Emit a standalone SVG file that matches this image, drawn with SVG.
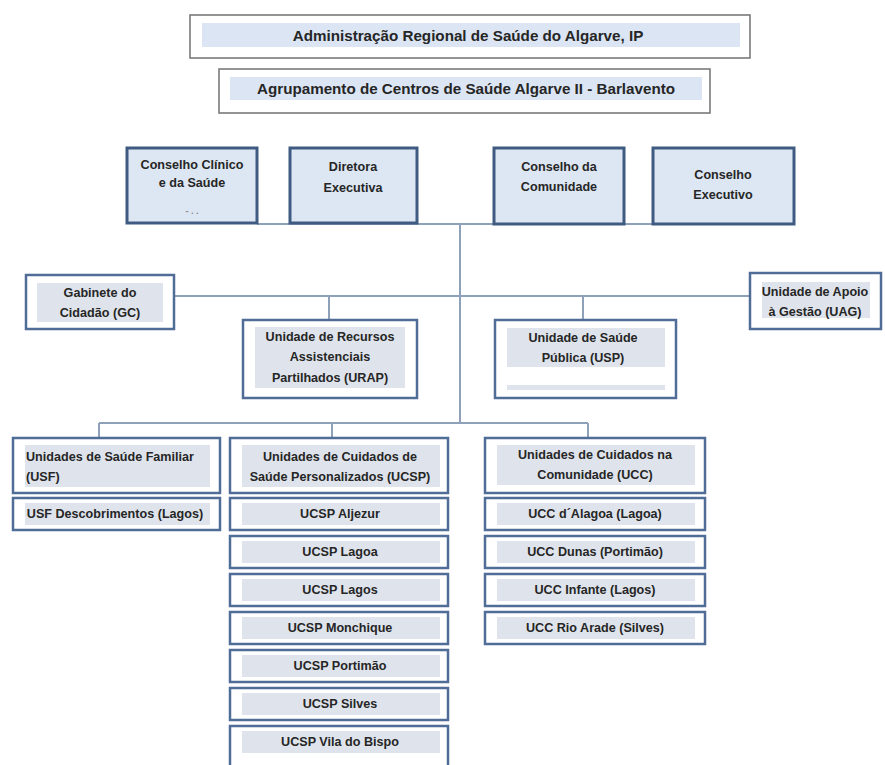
<svg xmlns="http://www.w3.org/2000/svg" width="885" height="765" viewBox="0 0 885 765">
<style>
text{font-family:"Liberation Sans",Arial,sans-serif;font-weight:bold;font-size:12.6px;fill:#262626;text-anchor:middle;dominant-baseline:central}
.top{fill:#fff;stroke:#7a7a7a;stroke-width:1.6}
.topin{fill:#dbe5f3}
.cons{fill:#dde6f3;stroke:#3f5b82;stroke-width:3}
.box{fill:#fff;stroke:#4f6d96;stroke-width:2.5}
.in{fill:#dfe4ec}
.ln{stroke:#8fa1b8;stroke-width:2;fill:none}
.big{font-size:15.2px}
</style>
<rect width="885" height="765" fill="#fff"/>
<g id="connectors">
<path class="ln" d="M257 224H653"/>
<path class="ln" d="M460 224V423"/>
<path class="ln" d="M174 296H750"/>
<path class="ln" d="M329 296V320"/>
<path class="ln" d="M583 296V320"/>
<path class="ln" d="M99 423H588"/>
<path class="ln" d="M99 423V438"/>
<path class="ln" d="M332 423V438"/>
<path class="ln" d="M588 423V438"/>
</g>
<g id="arsa">
<rect class="top" x="190" y="15" width="560" height="43"/>
<rect class="topin" x="202" y="23" width="538" height="24"/>
<text class="big" x="468" y="35">Administração Regional de Saúde do Algarve, IP</text>
</g>
<g id="aces">
<rect class="top" x="219" y="69" width="491" height="44"/>
<rect class="topin" x="230" y="77" width="472" height="23"/>
<text class="big" x="466" y="88">Agrupamento de Centros de Saúde Algarve II - Barlavento</text>
</g>
<g id="conselho-clinico">
<rect class="cons" x="127" y="148" width="130" height="75"/>
<text x="192" y="165">Conselho Clínico</text>
<text x="192" y="183">e da Saúde</text>
<text x="192" y="211" style="font-size:9px;fill:#888">-   . .</text>
</g>
<g id="diretora">
<rect class="cons" x="290" y="148" width="127" height="75"/>
<text x="353" y="167">Diretora</text>
<text x="353" y="188">Executiva</text>
</g>
<g id="conselho-comunidade">
<rect class="cons" x="494" y="148" width="130" height="76"/>
<text x="559" y="167">Conselho da</text>
<text x="559" y="187">Comunidade</text>
</g>
<g id="conselho-executivo">
<rect class="cons" x="653" y="148" width="141" height="76"/>
<text x="723" y="175">Conselho</text>
<text x="723" y="195">Executivo</text>
</g>
<g id="gc">
<rect class="box" x="26" y="275" width="148" height="54"/>
<rect class="in" x="37" y="283" width="126" height="39"/>
<text x="100" y="293">Gabinete do</text>
<text x="100" y="313">Cidadão (GC)</text>
</g>
<g id="uag">
<rect class="box" x="750" y="273" width="131" height="56"/>
<rect class="in" x="762" y="282" width="108" height="36"/>
<text x="815" y="292">Unidade de Apoio</text>
<text x="815" y="312">à Gestão (UAG)</text>
</g>
<g id="urap">
<rect class="box" x="243" y="320" width="174" height="78"/>
<rect class="in" x="255" y="327" width="150" height="61"/>
<text x="330" y="337">Unidade de Recursos</text>
<text x="330" y="357">Assistenciais</text>
<text x="330" y="378">Partilhados (URAP)</text>
</g>
<g id="usp">
<rect class="box" x="495" y="320" width="181" height="78"/>
<rect class="in" x="507" y="328" width="158" height="39"/>
<rect class="in" x="507" y="385" width="158" height="5"/>
<text x="583" y="338">Unidade de Saúde</text>
<text x="583" y="358">Pública (USP)</text>
</g>
<g id="usf">
<rect class="box" x="13" y="438" width="207" height="55"/>
<rect class="in" x="25" y="445" width="185" height="42"/>
<text x="26" y="457" style="text-anchor:start">Unidades de Saúde Familiar</text>
<text x="26" y="477" style="text-anchor:start">(USF)</text>
</g>
<g id="usf-descobrimentos">
<rect class="box" x="13" y="498" width="207" height="32"/>
<rect class="in" x="25" y="503" width="185" height="22"/>
<text x="115" y="514">USF Descobrimentos (Lagos)</text>
</g>
<g id="ucsp">
<rect class="box" x="230" y="438" width="218" height="55"/>
<rect class="in" x="242" y="445" width="198" height="42"/>
<text x="340" y="457">Unidades de Cuidados de</text>
<text x="340" y="477">Saúde Personalizados (UCSP)</text>
</g>
<g id="ucsp-aljezur">
<rect class="box" x="230" y="498" width="218" height="32"/>
<rect class="in" x="242" y="503" width="198" height="22"/>
<text x="340" y="514">UCSP Aljezur</text>
</g>
<g id="ucsp-lagoa">
<rect class="box" x="230" y="536" width="218" height="32"/>
<rect class="in" x="242" y="541" width="198" height="22"/>
<text x="340" y="552">UCSP Lagoa</text>
</g>
<g id="ucsp-lagos">
<rect class="box" x="230" y="574" width="218" height="32"/>
<rect class="in" x="242" y="579" width="198" height="22"/>
<text x="340" y="590">UCSP Lagos</text>
</g>
<g id="ucsp-monchique">
<rect class="box" x="230" y="612" width="218" height="32"/>
<rect class="in" x="242" y="617" width="198" height="22"/>
<text x="340" y="628">UCSP Monchique</text>
</g>
<g id="ucsp-portimao">
<rect class="box" x="230" y="650" width="218" height="32"/>
<rect class="in" x="242" y="655" width="198" height="22"/>
<text x="340" y="666">UCSP Portimão</text>
</g>
<g id="ucsp-silves">
<rect class="box" x="230" y="688" width="218" height="32"/>
<rect class="in" x="242" y="693" width="198" height="22"/>
<text x="340" y="704">UCSP Silves</text>
</g>
<g id="ucsp-vila-do-bispo">
<rect class="box" x="230" y="726" width="218" height="45"/>
<rect class="in" x="242" y="731" width="198" height="22"/>
<text x="340" y="742">UCSP Vila do Bispo</text>
</g>
<g id="ucc">
<rect class="box" x="485" y="438" width="220" height="55"/>
<rect class="in" x="497" y="445" width="198" height="40"/>
<text x="595" y="455">Unidades de Cuidados na</text>
<text x="595" y="475">Comunidade (UCC)</text>
</g>
<g id="ucc-alagoa">
<rect class="box" x="485" y="498" width="220" height="32"/>
<rect class="in" x="497" y="503" width="198" height="22"/>
<text x="595" y="514">UCC d´Alagoa (Lagoa)</text>
</g>
<g id="ucc-dunas">
<rect class="box" x="485" y="536" width="220" height="32"/>
<rect class="in" x="497" y="541" width="198" height="22"/>
<text x="595" y="552">UCC Dunas (Portimão)</text>
</g>
<g id="ucc-infante">
<rect class="box" x="485" y="574" width="220" height="32"/>
<rect class="in" x="497" y="579" width="198" height="22"/>
<text x="595" y="590">UCC Infante (Lagos)</text>
</g>
<g id="ucc-rio-arade">
<rect class="box" x="485" y="612" width="220" height="32"/>
<rect class="in" x="497" y="617" width="198" height="22"/>
<text x="595" y="628">UCC Rio Arade (Silves)</text>
</g>
</svg>
